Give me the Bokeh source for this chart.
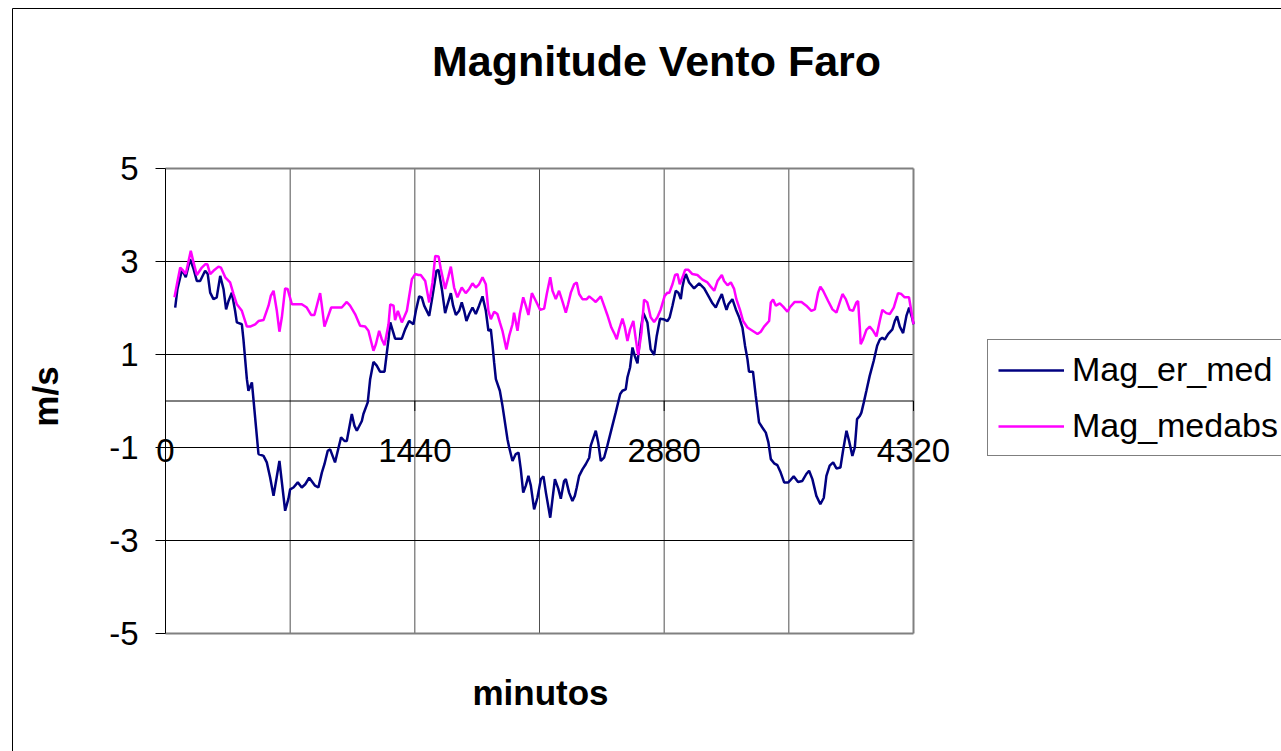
import math
from bokeh.plotting import figure
from bokeh.models import Range1d, Legend, LegendItem
from bokeh.core.properties import value
from bokeh.embed import file_html
from bokeh.resources import INLINE

# ---------------- data ----------------
title_text = "Magnitude Vento Faro"
x_title = "minutos"
y_title = "m/s"
series_names = ["Mag_er_med", "Mag_medabs"]

y_ticks = [-5, -3, -1, 1, 3, 5]
x_label_ticks = [0, 1440, 2880, 4320]
x_grid_ticks = [720, 1440, 2160, 2880, 3600]

er_t = [56, 69, 94, 104, 117, 142, 162, 181, 200, 229, 244, 258, 277, 296, 316, 335, 350, 364,
        383, 402, 412, 441, 450, 470, 479, 499, 537, 566, 585, 604, 624, 658, 691, 710, 720, 739,
        764, 787, 807, 830, 864, 883, 903, 918, 937, 951, 979, 1014, 1034, 1047, 1076, 1091, 1105,
        1134, 1143, 1168, 1182, 1201, 1220, 1239, 1265, 1288, 1298, 1326, 1365, 1384, 1407, 1432,
        1446, 1465, 1480, 1494, 1523, 1542, 1565, 1577, 1596, 1615, 1629, 1648, 1661, 1677, 1696,
        1711, 1725, 1738, 1754, 1773, 1792, 1811, 1831, 1850, 1865, 1879, 1889, 1898, 1908, 1931,
        1946, 1975, 1985, 2004, 2023, 2039, 2052, 2066, 2081, 2096, 2110, 2129, 2148, 2168, 2183,
        2197, 2222, 2235, 2249, 2268, 2283, 2302, 2312, 2331, 2350, 2364, 2375, 2389, 2408, 2427,
        2447, 2456, 2475, 2485, 2499, 2514, 2533, 2552, 2581, 2600, 2626, 2639, 2658, 2668, 2683,
        2697, 2710, 2726, 2745, 2760, 2783, 2802, 2822, 2837, 2856, 2876, 2899, 2912, 2928, 2947,
        2962, 2976, 2985, 2995, 3005, 3024, 3053, 3082, 3111, 3140, 3159, 3178, 3194, 3213, 3226,
        3240, 3251, 3274, 3294, 3313, 3332, 3347, 3361, 3370, 3393, 3409, 3428, 3447, 3467, 3482,
        3496, 3515, 3534, 3553, 3573, 3597, 3605, 3628, 3653, 3678, 3701, 3717, 3736, 3759, 3782,
        3802, 3817, 3836, 3856, 3875, 3898, 3913, 3933, 3948, 3967, 3981, 3994, 4010, 4019, 4033,
        4048, 4067, 4090, 4110, 4125, 4140, 4154, 4173, 4198, 4212, 4225, 4241, 4260, 4279, 4295,
        4314, 4320]
er_v = [2.01, 2.41, 2.80, 2.76, 2.66, 3.05, 2.84, 2.58, 2.58, 2.80, 2.73, 2.33, 2.19, 2.23, 2.69,
        2.41, 1.97, 2.15, 2.33, 1.94, 1.69, 1.65, 1.33, 0.47, 0.22, 0.40, -1.14, -1.18, -1.32,
        -1.64, -2.04, -1.29, -2.36, -2.10, -1.90, -1.86, -1.75, -1.86, -1.79, -1.65, -1.82, -1.86,
        -1.54, -1.36, -1.07, -1.04, -1.32, -0.78, -0.86, -0.86, -0.28, -0.53, -0.64, -0.43, -0.28,
        -0.03, 0.47, 0.84, 0.76, 0.63, 0.63, 1.33, 1.69, 1.34, 1.34, 1.54, 1.72, 1.65, 1.94, 2.25,
        2.23, 2.05, 1.83, 2.25, 2.80, 2.82, 2.41, 1.89, 2.08, 2.32, 2.05, 1.85, 1.94, 2.12, 1.94,
        1.72, 1.87, 2.01, 1.87, 2.05, 2.25, 1.94, 1.51, 1.54, 1.19, 0.83, 0.47, 0.22, -0.10, -0.82,
        -1.00, -1.29, -1.14, -1.11, -1.47, -1.97, -1.82, -1.61, -1.82, -2.33, -2.08, -1.68, -1.62,
        -1.97, -2.51, -2.11, -1.68, -1.88, -2.10, -1.72, -1.68, -1.97, -2.15, -2.04, -1.86, -1.61,
        -1.47, -1.36, -1.22, -0.96, -0.75, -0.64, -0.89, -1.29, -1.22, -0.96, -0.53, -0.25, 0.15,
        0.22, 0.25, 0.51, 0.72, 1.15, 0.97, 0.81, 1.54, 1.89, 1.69, 1.11, 0.99, 1.40, 1.77, 1.76,
        1.72, 1.80, 2.05, 2.37, 2.33, 2.19, 2.44, 2.62, 2.73, 2.55, 2.42, 2.53, 2.42, 2.23, 2.10,
        2.01, 2.15, 2.30, 2.12, 1.96, 2.08, 2.19, 1.97, 1.80, 1.58, 1.19, 0.90, 0.63, 0.63, 0.11,
        -0.46, -0.57, -0.68, -0.89, -1.25, -1.34, -1.38, -1.54, -1.75, -1.75, -1.72, -1.62, -1.74,
        -1.72, -1.57, -1.50, -1.68, -2.04, -2.22, -2.08, -1.61, -1.39, -1.32, -1.45, -1.43, -1.07,
        -0.64, -0.86, -1.18, -1.00, -0.39, -0.32, -0.25, -0.03, 0.22, 0.54, 0.86, 1.19, 1.32, 1.36,
        1.32, 1.44, 1.54, 1.72, 1.82, 1.60, 1.46, 1.83, 2.01, 1.76, 1.65]

abs_t = [52, 66, 85, 98, 117, 146, 162, 181, 210, 229, 242, 258, 277, 306, 320, 345, 373, 393,
         412, 441, 470, 489, 518, 537, 566, 595, 608, 624, 643, 658, 672, 691, 705, 730, 758, 787,
         816, 841, 860, 893, 903, 918, 937, 957, 989, 1018, 1047, 1066, 1095, 1124, 1153, 1172,
         1201, 1215, 1234, 1249, 1265, 1288, 1298, 1317, 1326, 1342, 1365, 1394, 1403, 1423, 1442,
         1461, 1474, 1500, 1523, 1542, 1558, 1577, 1590, 1615, 1634, 1648, 1667, 1686, 1711, 1734,
         1754, 1773, 1792, 1811, 1831, 1850, 1865, 1879, 1898, 1917, 1931, 1946, 1969, 1985, 2004,
         2013, 2033, 2046, 2066, 2081, 2096, 2116, 2139, 2164, 2187, 2202, 2222, 2235, 2254, 2273,
         2292, 2312, 2325, 2341, 2360, 2375, 2389, 2408, 2433, 2447, 2466, 2485, 2514, 2533, 2552,
         2575, 2591, 2606, 2620, 2639, 2652, 2668, 2683, 2702, 2716, 2730, 2749, 2764, 2783, 2802,
         2822, 2841, 2860, 2883, 2899, 2909, 2928, 2943, 2957, 2970, 2986, 3001, 3020, 3043, 3072,
         3101, 3130, 3149, 3169, 3188, 3213, 3226, 3246, 3265, 3284, 3297, 3317, 3336, 3361, 3390,
         3419, 3438, 3457, 3486, 3496, 3509, 3525, 3548, 3567, 3592, 3605, 3634, 3673, 3701, 3730,
         3750, 3769, 3782, 3798, 3827, 3852, 3875, 3894, 3910, 3929, 3952, 3971, 3990, 4000, 4010,
         4015, 4029, 4048, 4067, 4087, 4106, 4125, 4140, 4163, 4183, 4206, 4231, 4250, 4269, 4294,
         4308, 4320]
abs_v = [2.23, 2.51, 2.87, 2.82, 2.73, 3.23, 2.98, 2.71, 2.87, 2.94, 2.94, 2.73, 2.80, 2.89, 2.87,
         2.66, 2.55, 2.30, 2.08, 1.94, 1.60, 1.60, 1.65, 1.72, 1.74, 2.05, 2.26, 2.37, 1.94, 1.49,
         1.80, 2.42, 2.41, 2.08, 2.08, 2.08, 2.01, 1.85, 1.85, 2.32, 2.05, 1.60, 1.80, 2.01, 2.01,
         2.01, 2.13, 2.05, 1.87, 1.62, 1.60, 1.51, 1.08, 1.22, 1.51, 1.33, 1.20, 1.65, 2.08, 2.05,
         1.74, 1.94, 1.69, 1.94, 2.15, 2.62, 2.73, 2.71, 2.71, 2.58, 2.12, 2.55, 3.12, 3.11, 2.84,
         2.41, 2.68, 2.89, 2.44, 2.23, 2.44, 2.32, 2.41, 2.53, 2.44, 2.51, 2.66, 2.51, 1.94, 1.76,
         1.92, 1.87, 1.69, 1.51, 1.11, 1.40, 1.65, 1.90, 1.51, 1.87, 2.23, 2.05, 1.85, 2.32, 2.15,
         1.96, 1.99, 2.30, 2.66, 2.37, 2.19, 2.37, 2.15, 1.90, 2.08, 2.33, 2.51, 2.55, 2.30, 2.19,
         2.19, 2.25, 2.19, 2.13, 2.25, 2.05, 1.85, 1.58, 1.46, 1.33, 1.54, 1.77, 1.60, 1.29, 1.54,
         1.72, 1.33, 0.99, 1.47, 2.18, 2.12, 1.80, 1.70, 1.80, 1.97, 2.26, 2.33, 2.32, 2.51, 2.71,
         2.73, 2.51, 2.66, 2.82, 2.82, 2.73, 2.71, 2.61, 2.55, 2.46, 2.37, 2.58, 2.71, 2.58, 2.49,
         2.55, 2.41, 2.19, 1.97, 1.72, 1.58, 1.51, 1.44, 1.49, 1.60, 1.72, 2.12, 2.18, 2.05, 2.10,
         2.03, 1.92, 2.01, 2.13, 2.13, 2.05, 1.94, 1.97, 2.33, 2.46, 2.37, 2.15, 1.97, 1.90, 2.12,
         2.30, 2.19, 1.96, 1.94, 2.12, 2.15, 1.58, 1.22, 1.33, 1.53, 1.60, 1.51, 1.39, 1.72, 1.96,
         1.89, 1.87, 2.01, 2.32, 2.30, 2.23, 2.23, 1.92, 1.65]

# ---------------- layout (pixels of the page) ----------------
W, H = 1281, 751
FONT = "Liberation Sans"
x_min, x_max = 0, 4320
y_min, y_max = -5, 5
AREA_L, AREA_R, AREA_T, AREA_B = 165, 913, 168, 633   # plot area in page pixels

kx = (AREA_R - AREA_L) / (x_max - x_min)
ky = (AREA_B - AREA_T) / (y_max - y_min)


def sx(px):
    return x_min + (px - AREA_L) / kx


def sy(py):
    return y_max - (py - AREA_T) / ky


p = figure(width=W, height=H, output_backend="svg", toolbar_location=None,
           x_range=Range1d(sx(0), sx(W)), y_range=Range1d(sy(H), sy(0)),
           x_axis_location=None, y_axis_location=None,
           min_border=0, min_border_left=0, min_border_right=0,
           min_border_top=0, min_border_bottom=0)
p.background_fill_color = "white"
p.border_fill_color = "white"
p.outline_line_color = None
p.xgrid.visible = False
p.ygrid.visible = False

# outer chart border (top and left edges visible in the window)
p.segment(x0=[sx(12), sx(12)], y0=[sy(8), sy(8)], x1=[sx(W + 5), sx(12)], y1=[sy(8), sy(H + 5)],
          line_color="black", line_width=1)

# grid lines
inner_y = [t for t in y_ticks if y_min < t < y_max]
p.segment(x0=x_grid_ticks, y0=[y_min] * len(x_grid_ticks), x1=x_grid_ticks,
          y1=[y_max] * len(x_grid_ticks), line_color="#505050", line_width=1)
p.segment(x0=[x_min] * len(inner_y), y0=inner_y, x1=[x_max] * len(inner_y), y1=inner_y,
          line_color="black", line_width=1)

# plot area border (grey) top, right, bottom
p.segment(x0=[x_min, x_max, x_min], y0=[y_max, y_min, y_min], x1=[x_max, x_max, x_max],
          y1=[y_max, y_max, y_min], line_color="#808080", line_width=2)

# value axis (left) with outward ticks
p.segment(x0=[x_min], y0=[y_min], x1=[x_min], y1=[y_max], line_color="black", line_width=1)
p.segment(x0=[sx(AREA_L - 10)] * len(y_ticks), y0=y_ticks, x1=[x_min] * len(y_ticks), y1=y_ticks,
          line_color="black", line_width=1)
p.text(x=[sx(138)] * len(y_ticks), y=y_ticks, text=[str(t) for t in y_ticks],
       text_align="right", text_baseline="middle", text_font=value(FONT),
       text_font_size="33px", text_color="black")

# category axis crossing at y = 0
p.segment(x0=[x_min], y0=[0], x1=[x_max], y1=[0], line_color="black", line_width=1)
p.segment(x0=x_label_ticks, y0=[0] * len(x_label_ticks), x1=x_label_ticks,
          y1=[-10 / ky] * len(x_label_ticks), line_color="black", line_width=1)
p.text(x=x_label_ticks, y=[-38 / ky] * len(x_label_ticks), text=[str(t) for t in x_label_ticks],
       text_align="center", text_baseline="top", text_font=value(FONT),
       text_font_size="33px", text_color="black")

# titles
p.text(x=[sx(656)], y=[sy(60)], text=[title_text], text_align="center", text_baseline="middle",
       text_font=value(FONT), text_font_size="43px", text_font_style="bold", text_color="black")
p.text(x=[sx(540)], y=[sy(692)], text=[x_title], text_align="center", text_baseline="middle",
       text_font=value(FONT), text_font_size="35px", text_font_style="bold", text_color="black")
p.text(x=[sx(45)], y=[sy(396)], text=[y_title], text_align="center", text_baseline="middle",
       angle=math.pi / 2, text_font=value(FONT), text_font_size="35px",
       text_font_style="bold", text_color="black")

# series
r1 = p.line(er_t, er_v, line_color="#000080", line_width=2.5)
r2 = p.line(abs_t, abs_v, line_color="#FF00FF", line_width=2.5)

legend = Legend(items=[LegendItem(label=series_names[0], renderers=[r1]),
                       LegendItem(label=series_names[1], renderers=[r2])],
                location=(987, H - 456))
legend.label_text_font = FONT
legend.label_text_font_size = "34px"
legend.label_text_color = "black"
legend.glyph_width = 66
legend.glyph_height = 38
legend.label_height = 38
legend.label_standoff = 8
legend.spacing = 17
legend.padding = 10
legend.margin = 0
legend.border_line_color = "black"
legend.border_line_width = 1
legend.background_fill_color = "white"
legend.background_fill_alpha = 1
p.add_layout(legend)

open("out.html", "w").write(file_html(p, INLINE))
